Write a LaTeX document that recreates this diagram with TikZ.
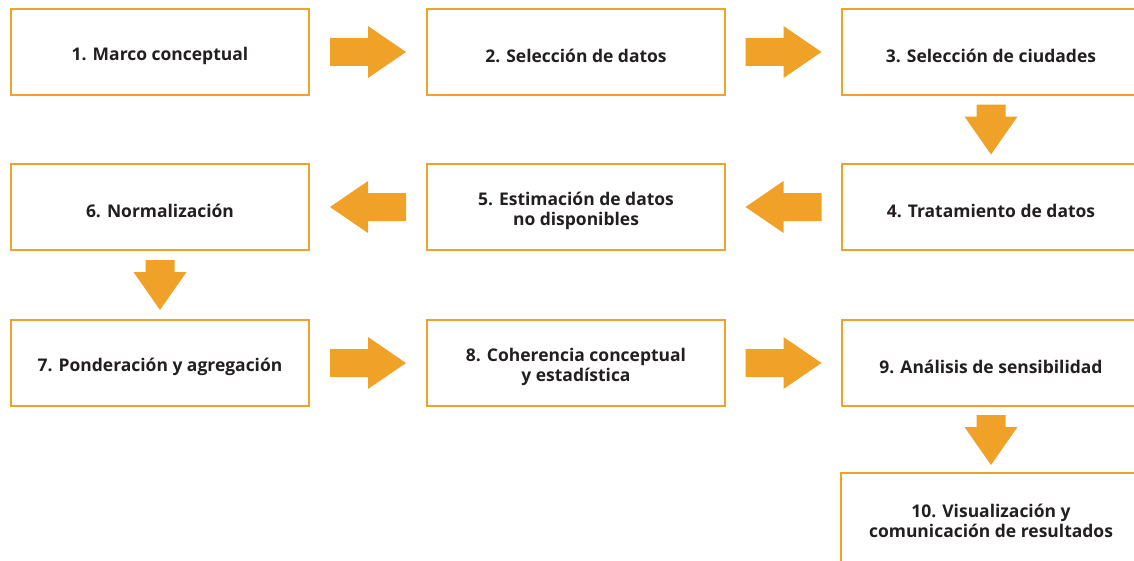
\documentclass[tikz,border=0pt]{standalone}
\usepackage{fontspec}
\setmainfont{Open Sans}
\definecolor{orng}{HTML}{F0A228}
\definecolor{txt}{HTML}{231F20}
\begin{document}
\begin{tikzpicture}[x=0.75pt,y=-0.75pt,
  box/.style={draw=orng,line width=1.5pt,fill=white,minimum width=223.5pt,minimum height=64.5pt,inner sep=0pt},
  lbl/.style={align=center,text=txt,font=\bfseries\fontsize{13.1}{14.5}\selectfont,inner sep=0pt,yshift=-3pt},
  rarrow/.pic={\fill[orng] (-38,-14) -- (0,-14) -- (0,-26) -- (38,0) -- (0,26) -- (0,14) -- (-38,14) -- cycle;},
  larrow/.pic={\fill[orng] (38,-14) -- (0,-14) -- (0,-26) -- (-38,0) -- (0,26) -- (0,14) -- (38,14) -- cycle;},
  darrow/.pic={\fill[orng] (-14.5,-25) -- (14.5,-25) -- (14.5,-13) -- (26.5,-13) -- (0,25) -- (-26.5,-13) -- (-14.5,-13) -- cycle;}
]
\useasboundingbox (0,0) rectangle (1134,560);
\clip (0,0) rectangle (1134,560);
\node[box,label={[lbl]center:1. Marco conceptual}] (b1) at (160,52) {};
\node[box,label={[lbl]center:2. Selección de datos}] (b2) at (576,52) {};
\node[box,label={[lbl]center:3. Selección de ciudades}] (b3) at (991,52) {};
\node[box,label={[lbl]center:4. Tratamiento de datos}] (b4) at (991,207) {};
\node[box,label={[lbl]center:{5. Estimación de datos\\no disponibles}}] (b5) at (576,207) {};
\node[box,label={[lbl]center:6. Normalización}] (b6) at (160,207) {};
\node[box,label={[lbl]center:7. Ponderación y agregación}] (b7) at (160,363) {};
\node[box,label={[lbl]center:{8. Coherencia conceptual\\y estadística}}] (b8) at (576,363) {};
\node[box,label={[lbl]center:9. Análisis de sensibilidad}] (b9) at (991,363) {};
\node[box,draw=none,fill=none,label={[lbl]center:{10. Visualización y\\comunicación de resultados}}] (b10) at (991,517) {};
\draw[orng,line width=1.5pt] (b10.south west) ++(0,30) -- (b10.north west) -- (b10.north east) -- ++(0,0);
\path (b1.east) -- (b2.west) coordinate[midway] (m12);
\path (b2.east) -- (b3.west) coordinate[midway] (m23);
\path (b3.south) -- (b4.north) coordinate[midway] (m34);
\path (b4.west) -- (b5.east) coordinate[midway] (m45);
\path (b5.west) -- (b6.east) coordinate[midway] (m56);
\path (b6.south) -- (b7.north) coordinate[midway] (m67);
\path (b7.east) -- (b8.west) coordinate[midway] (m78);
\path (b8.east) -- (b9.west) coordinate[midway] (m89);
\path (b9.south) -- (b10.north) coordinate[midway] (m910);
\pic at (m12) {rarrow};
\pic at (m23) {rarrow};
\pic at (m34) {darrow};
\pic at (m45) {larrow};
\pic at (m56) {larrow};
\pic at (m67) {darrow};
\pic at (m78) {rarrow};
\pic at (m89) {rarrow};
\pic at (m910) {darrow};
\end{tikzpicture}
\end{document}
